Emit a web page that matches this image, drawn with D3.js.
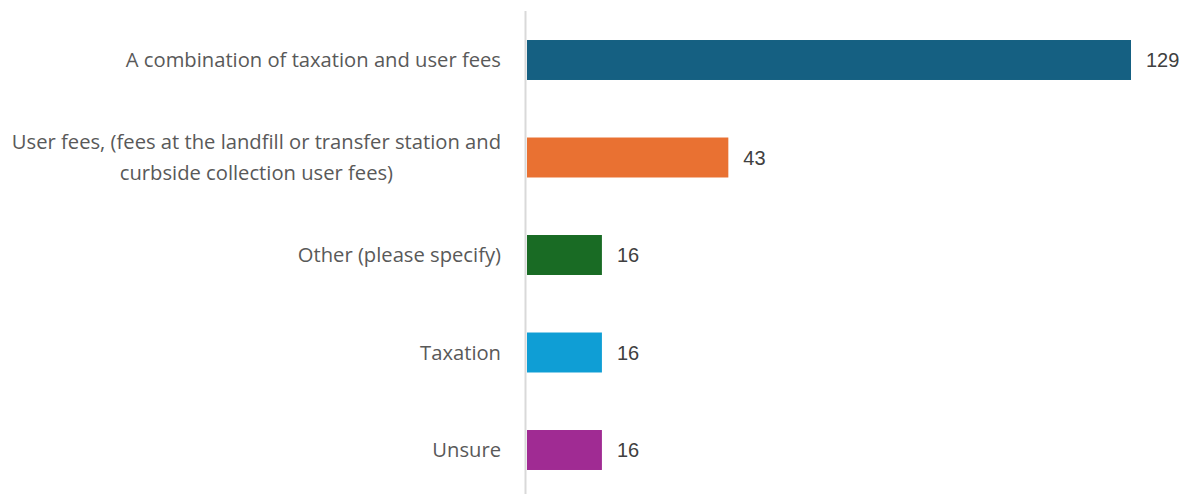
<!DOCTYPE html>
<html>
<head>
<meta charset="utf-8">
<script src="https://cdn.jsdelivr.net/npm/d3@7"></script>
<style>
  html, body { margin: 0; padding: 0; background: #fff; }
  svg { display: block; }
</style>
</head>
<body>
<svg id="chart" width="1193" height="494"></svg>
<script>
// Funding method responses
const categories = [
  "A combination of taxation and user fees",
  "User fees, (fees at the landfill or transfer station and|curbside collection user fees)",
  "Other (please specify)",
  "Taxation",
  "Unsure"
];
const values = [129, 43, 16, 16, 16];
const colors = ["#156082", "#E97132", "#196B24", "#0F9ED5", "#A02B93"];

const width = 1193, height = 494;
const svg = d3.select("#chart");

const x = d3.scaleLinear().domain([0, 129]).range([527, 1131]);
const y = d3.scaleBand()
  .domain(d3.range(categories.length))
  .range([11.25, 498.75])
  .paddingInner(0.59)
  .paddingOuter(0.295);

// bars
svg.append("g").selectAll("rect")
  .data(values)
  .join("rect")
  .attr("x", x(0))
  .attr("y", (d, i) => y(i))
  .attr("width", d => x(d) - x(0))
  .attr("height", y.bandwidth())
  .attr("fill", (d, i) => colors[i]);

// category axis line
svg.append("line")
  .attr("x1", 525.5).attr("x2", 525.5)
  .attr("y1", 11).attr("y2", height)
  .attr("stroke", "#d9d9d9")
  .attr("stroke-width", 2);

// category labels (right-aligned, multi-line centred)
const labelG = svg.append("g")
  .attr("font-family", "'Open Sans', 'Noto Sans', sans-serif")
  .attr("font-size", 20.2)
  .attr("fill", "#595959");

categories.forEach((c, i) => {
  const lines = c.split("|");
  const cy = y(i) + y.bandwidth() / 2;
  const lh = 31;
  const t = labelG.append("text")
    .attr("text-anchor", lines.length > 1 ? "middle" : "end")
    .attr("x", 501);
  lines.forEach((ln, j) => {
    t.append("tspan")
      .attr("x", 501)
      .attr("y", cy + (j - (lines.length - 1) / 2) * lh)
      .attr("dy", "0.35em")
      .text(ln);
  });
});

// value labels
svg.append("g")
  .attr("font-family", "'Liberation Sans', Arial, sans-serif")
  .attr("font-size", 20)
  .attr("fill", "#404040")
  .selectAll("text")
  .data(values)
  .join("text")
  .attr("x", d => x(d) + 15)
  .attr("y", (d, i) => y(i) + y.bandwidth() / 2)
  .attr("dy", "0.35em")
  .text(d => d);

// Two-line label: centre each line under the widest one, right edge at 501
labelG.selectAll("text").each(function() {
  const t = d3.select(this);
  const spans = t.selectAll("tspan").nodes();
  if (spans.length > 1) {
    const w = d3.max(spans, s => s.getComputedTextLength());
    spans.forEach(s => d3.select(s).attr("x", 501 - w / 2));
  }
});
</script>
</body>
</html>
